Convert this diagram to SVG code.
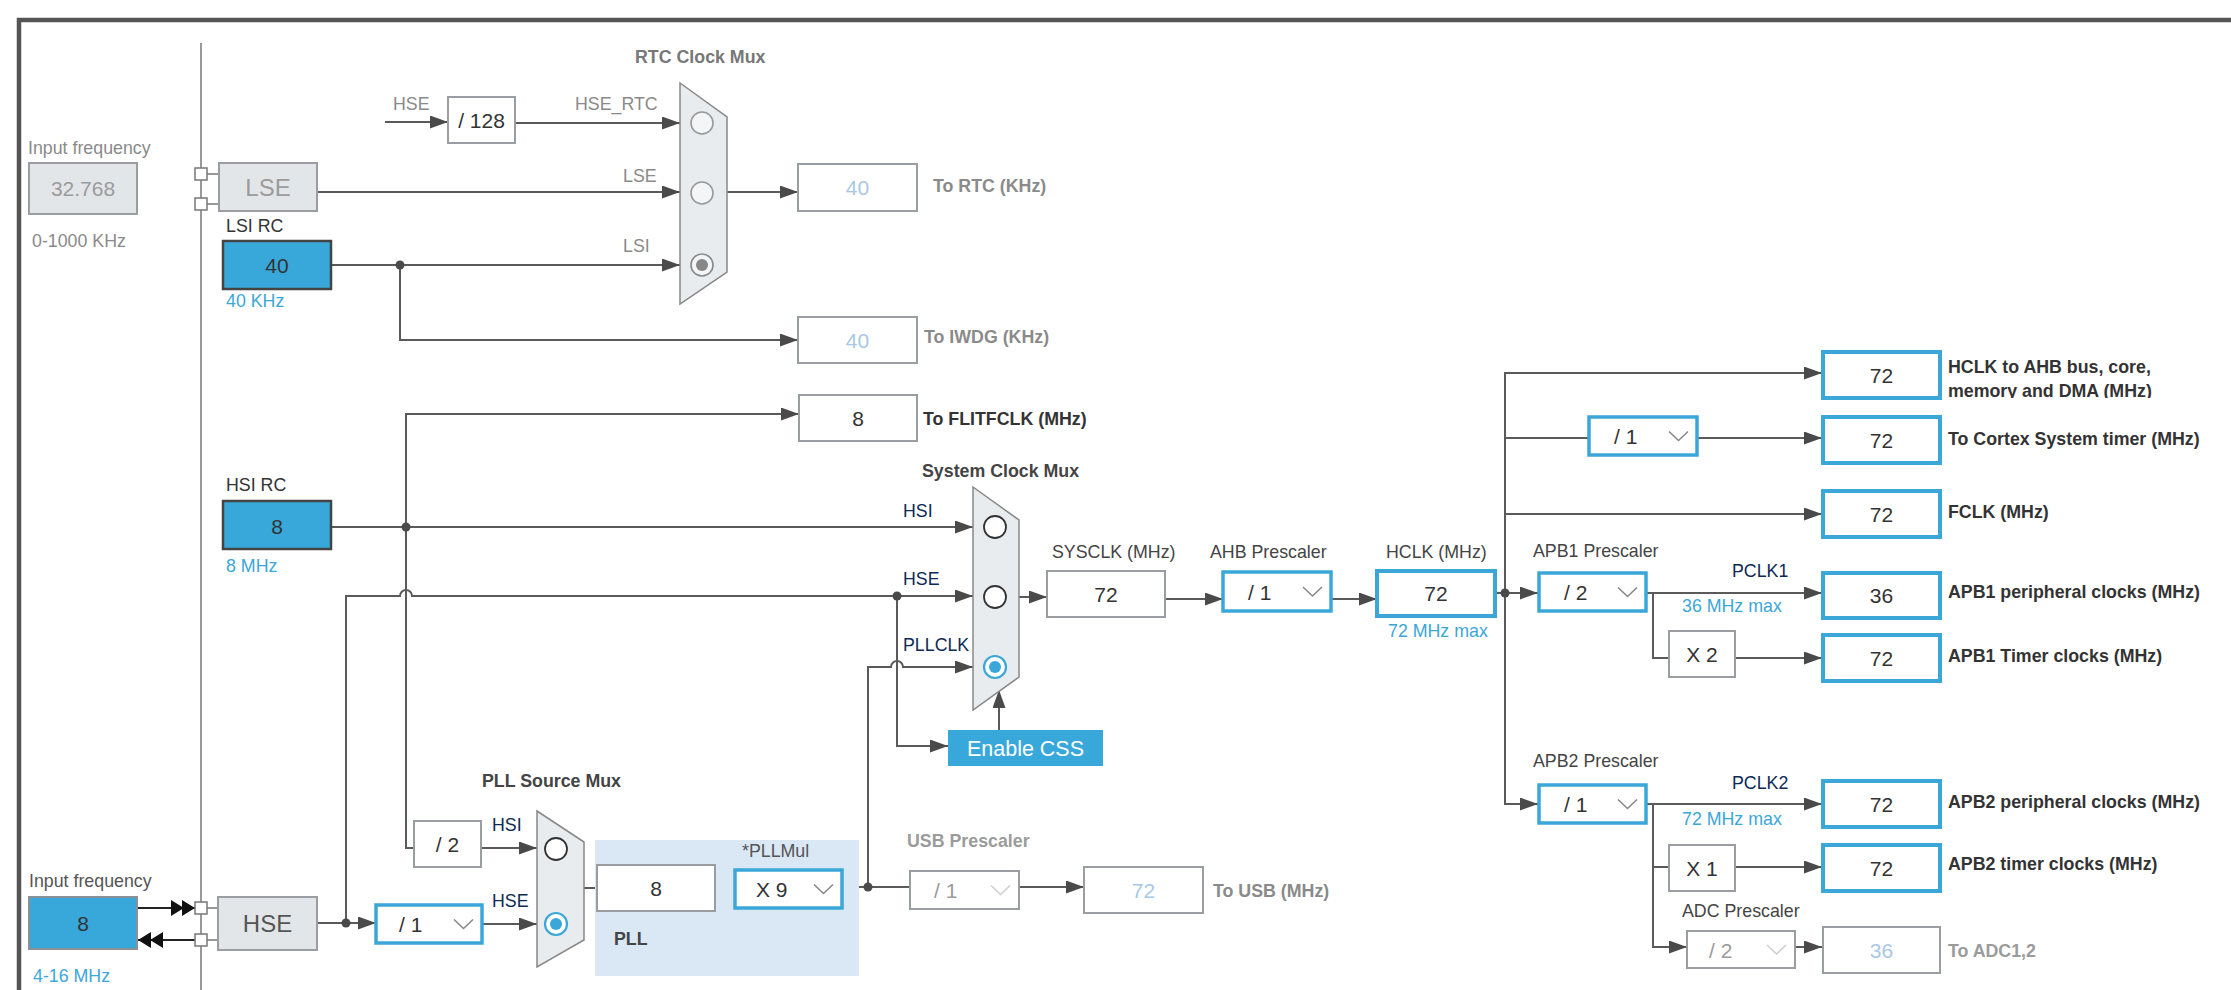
<svg xmlns="http://www.w3.org/2000/svg" width="2231" height="990" viewBox="0 0 2231 990">
<style>
.t{font-family:"Liberation Sans",Arial,Helvetica,sans-serif;font-size:17.8px;fill:#444}
.g{fill:#8a8a8a}
.lg{fill:#9b9b9b}
.n{fill:#0d2a55}
.bl{fill:#3ba7d9}
.bd{font-weight:bold}
.dk{fill:#333}
.v{font-size:21px;text-anchor:middle;fill:#333}
.vl{font-size:21px;text-anchor:middle;fill:#a9c7e6}
.big{font-size:24px;text-anchor:middle}
.dt{font-size:21px;fill:#333}
.dtg{font-size:21px;fill:#9b9b9b}
.box{fill:#fff;stroke:#9a9ea3;stroke-width:2}
.bbox{fill:#fff;stroke:#3ba7d9;stroke-width:4}
.dd{fill:#fff;stroke:#3ba7d9;stroke-width:3.5}
.ddg{fill:#fff;stroke:#9a9ea3;stroke-width:2}
.osc{fill:#38a8da;stroke:#444;stroke-width:2.5}
.grey{fill:#e3e6e9;stroke:#9a9ea3;stroke-width:2}
.mux{fill:#e9ecef;stroke:#888;stroke-width:1.5}
.chev{fill:none;stroke:#888;stroke-width:1.6}
.chevg{fill:none;stroke:#cfcfcf;stroke-width:1.6}
.ln{fill:none;stroke:#5a5a5a;stroke-width:2}
.lnk{fill:none;stroke:#222;stroke-width:2}
.arr{fill:none;stroke:#5a5a5a;stroke-width:2;marker-end:url(#ah)}
.dot{fill:#4a4a4a}
.sq{fill:#fff;stroke:#777;stroke-width:1.5}
.rail{fill:none;stroke:#777;stroke-width:1.5}
</style>
<defs>
<marker id="ah" markerUnits="userSpaceOnUse" markerWidth="18" markerHeight="13" refX="18" refY="6.5" orient="auto">
<path d="M0,0 L18,6.5 L0,13 Z" fill="#4a4a4a"/>
</marker>
<clipPath id="clipAhb"><rect x="1940" y="340" width="291" height="58"/></clipPath>
</defs>

<rect x="0" y="0" width="2231" height="990" fill="#fff"/>
<g id="frame">
<path d="M19,990 V20 H2231" fill="none" stroke="#555" stroke-width="4.5"/>
<line x1="201" y1="43" x2="201" y2="990" class="rail"/>
</g>

<g id="connectors">
<path class="arr" d="M385,122 H448"/>
<path class="arr" d="M515,123 H680"/>
<path class="arr" d="M317,192 H680"/>
<path class="arr" d="M331,265 H680"/>
<path class="arr" d="M400,265 V340 H798"/>
<path class="arr" d="M727,192 H798"/>
<path class="arr" d="M406,527 V414 H799"/>
<path class="ln" d="M406,527 V848 H414"/>
<path class="arr" d="M331,527 H973"/>
<path class="arr" d="M346,923 V596 H400 A6,6 0 0 1 412,596 H973"/>
<path class="arr" d="M897,596 V746 H948"/>
<path class="arr" d="M868,887 V667 H891 A6,6 0 0 1 903,667 H973"/>
<path class="arr" d="M999,730 V690"/>
<path class="arr" d="M1019,597 H1047"/>
<path class="arr" d="M1165,599 H1223"/>
<path class="arr" d="M1331,599 H1377"/>
<path class="arr" d="M1495,593 H1538"/>
<path class="arr" d="M1505,593 V373 H1822"/>
<path class="arr" d="M1505,593 V804 H1538"/>
<path class="ln" d="M1505,438 H1589"/>
<path class="arr" d="M1697,438 H1822"/>
<path class="arr" d="M1505,514 H1822"/>
<path class="arr" d="M1646,593 H1822"/>
<path class="ln" d="M1653,593 V658 H1669"/>
<path class="arr" d="M1735,658 H1822"/>
<path class="arr" d="M1646,804 H1822"/>
<path class="arr" d="M1653,804 V947 H1687"/>
<path class="ln" d="M1653,867 H1669"/>
<path class="arr" d="M1735,867 H1822"/>
<path class="arr" d="M1795,947 H1822"/>
<path class="arr" d="M317,923 H376"/>
<path class="arr" d="M482,924 H537"/>
<path class="arr" d="M481,848 H537"/>
<path class="ln" d="M584,888 H597"/>
<path class="ln" d="M715,888 H735"/>
<path class="ln" d="M842,887 H910"/>
<path class="arr" d="M1019,887 H1084"/>
<path class="lnk" d="M137,908 H195"/>
<polygon points="171,900 184,908 171,916" fill="#111"/>
<polygon points="182,900 195,908 182,916" fill="#111"/>
<path class="lnk" d="M195,940 H137"/>
<polygon points="151,932 138,940 151,948" fill="#111"/>
<polygon points="163,932 150,940 163,948" fill="#111"/>
<circle class="dot" cx="400" cy="265" r="4.5"/>
<circle class="dot" cx="406" cy="527" r="4.5"/>
<circle class="dot" cx="897" cy="596" r="4.5"/>
<circle class="dot" cx="868" cy="887" r="4.5"/>
<circle class="dot" cx="1505" cy="593" r="4.5"/>
<circle class="dot" cx="346" cy="923" r="4.5"/>
</g>

<g id="lse-input">
<text class="t g" x="28" y="154">Input frequency</text>
<rect class="grey" x="29" y="163" width="108" height="51"/>
<text class="t v lg" x="83" y="196" style="fill:#9b9b9b">32.768</text>
<text class="t g" x="32" y="247">0-1000 KHz</text>
</g>

<g id="lse">
<path class="ln" d="M207,174 H219 M207,204 H219" style="stroke:#777;stroke-width:1.5"/>
<rect class="sq" x="195" y="168" width="12" height="12"/>
<rect class="sq" x="195" y="198" width="12" height="12"/>
<rect class="grey" x="219" y="163" width="98" height="48"/>
<text class="t big" x="268" y="196" style="fill:#9b9b9b">LSE</text>
</g>

<g id="lsi">
<text class="t dk" x="226" y="232">LSI RC</text>
<rect class="osc" x="223" y="241" width="108" height="48"/>
<text class="t v" x="277" y="272.5">40</text>
<text class="t bl" x="226" y="307">40 KHz</text>
</g>

<g id="div128">
<text class="t g" x="393" y="110">HSE</text>
<rect class="box" x="448" y="97" width="67" height="46"/>
<text class="t v" x="481.5" y="127.5">/ 128</text>
</g>

<g id="rtc-mux">
<text class="t bd" x="635" y="63" style="fill:#777">RTC Clock Mux</text>
<text class="t g" x="575" y="110">HSE_RTC</text>
<text class="t g" x="623" y="182">LSE</text>
<text class="t g" x="623" y="252">LSI</text>
<polygon class="mux" points="680,83 727,117 727,272 680,304"/>
<circle cx="702" cy="123" r="11" fill="#f4f5f6" stroke="#999" stroke-width="1.6"/>
<circle cx="702" cy="193" r="11" fill="#f4f5f6" stroke="#999" stroke-width="1.6"/>
<circle cx="702" cy="265" r="11" fill="#f4f5f6" stroke="#888" stroke-width="1.6"/>
<circle cx="702" cy="265" r="6" fill="#888"/>
</g>

<g id="to-rtc">
<rect class="box" x="798" y="164" width="119" height="47"/>
<text class="t vl" x="857.5" y="195">40</text>
<text class="t bd g" x="933" y="192">To RTC (KHz)</text>
</g>

<g id="to-iwdg">
<rect class="box" x="798" y="317" width="119" height="46"/>
<text class="t vl" x="857.5" y="347.5">40</text>
<text class="t bd g" x="924" y="343">To IWDG (KHz)</text>
</g>

<g id="to-flitfclk">
<rect class="box" x="799" y="395" width="118" height="46"/>
<text class="t v" x="858" y="425.5">8</text>
<text class="t bd dk" x="923" y="425">To FLITFCLK (MHz)</text>
</g>

<g id="hsi">
<text class="t dk" x="226" y="491">HSI RC</text>
<rect class="osc" x="223" y="501" width="108" height="48"/>
<text class="t v" x="277" y="534">8</text>
<text class="t bl" x="226" y="572">8 MHz</text>
</g>

<g id="sys-mux">
<text class="t bd" x="922" y="477">System Clock Mux</text>
<text class="t n" x="903" y="517">HSI</text>
<text class="t n" x="903" y="585">HSE</text>
<text class="t n" x="903" y="651">PLLCLK</text>
<polygon class="mux" points="973,487 1019,520 1019,677 973,710"/>
<circle cx="995" cy="527" r="11" fill="#fff" stroke="#333" stroke-width="1.8"/>
<circle cx="995" cy="597" r="11" fill="#fff" stroke="#333" stroke-width="1.8"/>
<circle cx="995" cy="667" r="11" fill="#fff" stroke="#3ba7d9" stroke-width="2.2"/>
<circle cx="995" cy="667" r="6" fill="#3ba7d9"/>
</g>

<g id="enable-css">
<rect x="948" y="730" width="155" height="36" fill="#38a8da"/>
<text class="t" x="1025.5" y="756" style="fill:#fff;font-size:21.5px;text-anchor:middle">Enable CSS</text>
</g>

<g id="sysclk">
<text class="t" x="1052" y="558">SYSCLK (MHz)</text>
<rect class="box" x="1047" y="571" width="118" height="46"/>
<text class="t v" x="1106" y="601.5">72</text>
</g>

<g id="ahb-prescaler">
<text class="t" x="1210" y="558">AHB Prescaler</text>
<rect class="dd" x="1223" y="572" width="108" height="39"/>
<text class="t dt" x="1248" y="599.5">/ 1</text>
<polyline class="chev" points="1303,587 1312.5,596 1322,587"/>
</g>

<g id="hclk">
<text class="t" x="1386" y="558">HCLK (MHz)</text>
<rect class="bbox" x="1377" y="571" width="118" height="45"/>
<text class="t v" x="1436" y="601">72</text>
<text class="t bl" x="1388" y="637">72 MHz max</text>
</g>

<g id="hclk-ahb">
<rect class="bbox" x="1823" y="352" width="117" height="46"/>
<text class="t v" x="1881.5" y="382.5">72</text>
<g clip-path="url(#clipAhb)">
<text class="t bd dk" x="1948" y="373">HCLK to AHB bus, core,</text>
<text class="t bd dk" x="1948" y="397">memory and DMA (MHz)</text>
</g>
</g>

<g id="cortex-prescaler">
<rect class="dd" x="1589" y="417" width="108" height="38"/>
<text class="t dt" x="1614" y="444">/ 1</text>
<polyline class="chev" points="1669,431.5 1678.5,440.5 1688,431.5"/>
</g>

<g id="cortex-timer">
<rect class="bbox" x="1823" y="417" width="117" height="46"/>
<text class="t v" x="1881.5" y="447.5">72</text>
<text class="t bd dk" x="1948" y="445">To Cortex System timer (MHz)</text>
</g>

<g id="fclk">
<rect class="bbox" x="1823" y="491" width="117" height="46"/>
<text class="t v" x="1881.5" y="521.5">72</text>
<text class="t bd dk" x="1948" y="518">FCLK (MHz)</text>
</g>

<g id="apb1-prescaler">
<text class="t" x="1533" y="557">APB1 Prescaler</text>
<rect class="dd" x="1539" y="573" width="107" height="38"/>
<text class="t dt" x="1564" y="600">/ 2</text>
<polyline class="chev" points="1618,587.5 1627.5,596.5 1637,587.5"/>
<text class="t n" x="1732" y="577">PCLK1</text>
<text class="t bl" x="1682" y="612">36 MHz max</text>
</g>

<g id="apb1-periph">
<rect class="bbox" x="1823" y="573" width="117" height="45"/>
<text class="t v" x="1881.5" y="603">36</text>
<text class="t bd dk" x="1948" y="598">APB1 peripheral clocks (MHz)</text>
</g>

<g id="apb1-x2">
<rect class="box" x="1669" y="631" width="66" height="46"/>
<text class="t v" x="1702" y="661.5">X 2</text>
</g>

<g id="apb1-timer">
<rect class="bbox" x="1823" y="635" width="117" height="46"/>
<text class="t v" x="1881.5" y="665.5">72</text>
<text class="t bd dk" x="1948" y="662">APB1 Timer clocks (MHz)</text>
</g>

<g id="apb2-prescaler">
<text class="t" x="1533" y="767">APB2 Prescaler</text>
<rect class="dd" x="1539" y="785" width="107" height="38"/>
<text class="t dt" x="1564" y="812">/ 1</text>
<polyline class="chev" points="1618,799.5 1627.5,808.5 1637,799.5"/>
<text class="t n" x="1732" y="789">PCLK2</text>
<text class="t bl" x="1682" y="825">72 MHz max</text>
</g>

<g id="apb2-periph">
<rect class="bbox" x="1823" y="781" width="117" height="46"/>
<text class="t v" x="1881.5" y="811.5">72</text>
<text class="t bd dk" x="1948" y="808">APB2 peripheral clocks (MHz)</text>
</g>

<g id="apb2-x1">
<rect class="box" x="1669" y="845" width="66" height="46"/>
<text class="t v" x="1702" y="875.5">X 1</text>
</g>

<g id="apb2-timer">
<rect class="bbox" x="1823" y="845" width="117" height="46"/>
<text class="t v" x="1881.5" y="875.5">72</text>
<text class="t bd dk" x="1948" y="870">APB2 timer clocks (MHz)</text>
</g>

<g id="adc-prescaler">
<text class="t" x="1682" y="917">ADC Prescaler</text>
<rect class="ddg" x="1687" y="931" width="108" height="37"/>
<text class="t dtg" x="1709" y="957.5">/ 2</text>
<polyline class="chevg" points="1767,945 1776.5,954 1786,945"/>
</g>

<g id="to-adc">
<rect class="box" x="1823" y="927" width="117" height="46"/>
<text class="t vl" x="1881.5" y="957.5">36</text>
<text class="t bd lg" x="1948" y="957">To ADC1,2</text>
</g>

<g id="hse-input">
<text class="t" x="29" y="887" style="fill:#555">Input frequency</text>
<rect x="29" y="897" width="108" height="52" fill="#38a8da" stroke="#8a9096" stroke-width="2"/>
<text class="t v" x="83" y="930.5">8</text>
<text class="t bl" x="33" y="982">4-16 MHz</text>
</g>

<g id="hse">
<path d="M207,908 H218 M207,940 H218" fill="none" stroke="#777" stroke-width="1.5"/>
<rect class="sq" x="195" y="902" width="12" height="12"/>
<rect class="sq" x="195" y="934" width="12" height="12"/>
<rect class="grey" x="218" y="897" width="99" height="53"/>
<text class="t big" x="267.5" y="932" style="fill:#555">HSE</text>
</g>

<g id="hse-prediv">
<rect class="dd" x="376" y="905" width="106" height="38"/>
<text class="t dt" x="399" y="932">/ 1</text>
<polyline class="chev" points="454,919.5 463.5,928.5 473,919.5"/>
</g>

<g id="hsi-div2">
<rect class="box" x="414" y="821" width="67" height="46"/>
<text class="t v" x="447.5" y="851.5">/ 2</text>
</g>

<g id="pll-source-mux">
<text class="t bd" x="482" y="787">PLL Source Mux</text>
<text class="t n" x="492" y="831">HSI</text>
<text class="t n" x="492" y="907">HSE</text>
<polygon class="mux" points="537,811 584,842 584,940 537,967"/>
<circle cx="556" cy="849" r="11" fill="#fff" stroke="#333" stroke-width="1.8"/>
<circle cx="556" cy="924" r="11" fill="#fff" stroke="#3ba7d9" stroke-width="2.2"/>
<circle cx="556" cy="924" r="6" fill="#3ba7d9"/>
</g>

<g id="pll">
<rect x="595" y="840" width="264" height="136" fill="#dae8f5"/>
<text class="t" x="742" y="857" style="fill:#555">*PLLMul</text>
<rect class="box" x="597" y="865" width="118" height="46"/>
<text class="t v" x="656" y="895.5">8</text>
<rect class="dd" x="735" y="870" width="107" height="38"/>
<text class="t dt" x="756" y="897">X 9</text>
<polyline class="chev" points="814,884.5 823.5,893.5 833,884.5"/>
<text class="t bd" x="614" y="945">PLL</text>
</g>

<g id="usb-prescaler">
<text class="t bd lg" x="907" y="847">USB Prescaler</text>
<rect class="ddg" x="910" y="871" width="109" height="38"/>
<text class="t dtg" x="934" y="898">/ 1</text>
<polyline class="chevg" points="991,885.5 1000.5,894.5 1010,885.5"/>
</g>

<g id="to-usb">
<rect class="box" x="1084" y="867" width="119" height="46"/>
<text class="t vl" x="1143.5" y="897.5">72</text>
<text class="t bd g" x="1213" y="897">To USB (MHz)</text>
</g>
</svg>
